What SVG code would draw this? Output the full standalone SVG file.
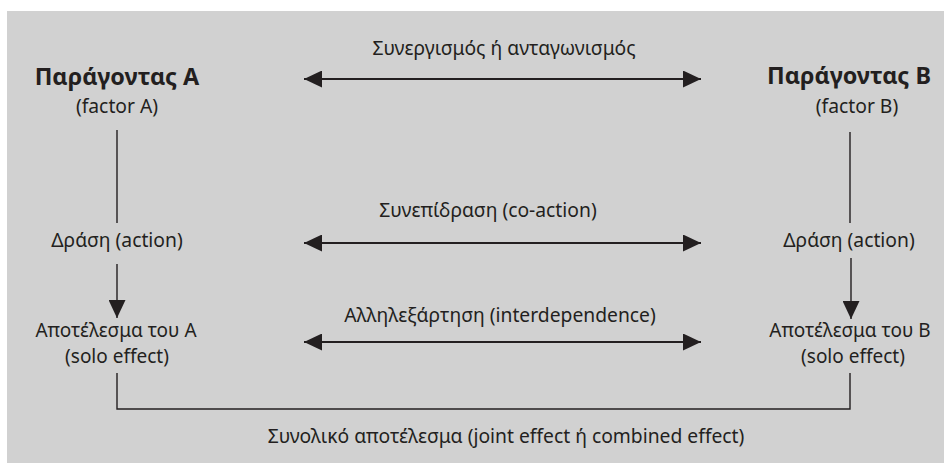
<svg xmlns="http://www.w3.org/2000/svg" width="944" height="464" viewBox="0 0 944 464">
<style>
text{font-family:"Noto Sans","Open Sans","DejaVu Sans",sans-serif;fill:#231f20;text-anchor:middle;font-size:19.3px}
.t{font-weight:bold;font-size:23.4px}
.e{font-size:19px}
.ln{stroke:#231f20;stroke-width:1.4;fill:none}
.ha{stroke:#231f20;stroke-width:2;fill:none}
</style>
<defs>
<marker id="ah" markerUnits="userSpaceOnUse" markerWidth="18" markerHeight="17" refX="18" refY="8.5" orient="auto-start-reverse" viewBox="0 0 18 17">
<path d="M0,0 L18,8.5 L0,17 z" fill="#231f20"/>
</marker>
</defs>
<rect x="7" y="11" width="937" height="452" fill="#d1d1d1"/>
<g id="factorA">
<text class="t" x="117" y="85">Παράγοντας A</text>
<text x="117" y="113">(factor A)</text>
</g>
<g id="factorB">
<text class="t" x="849" y="84">Παράγοντας B</text>
<text x="857" y="113">(factor B)</text>
</g>
<g id="actionA"><text x="117" y="247">Δράση (action)</text></g>
<g id="actionB"><text x="849" y="247">Δράση (action)</text></g>
<g id="effectA">
<text class="e" x="116" y="337">Αποτέλεσμα του A</text>
<text class="e" x="117" y="363">(solo effect)</text>
</g>
<g id="effectB">
<text class="e" x="850" y="337">Αποτέλεσμα του B</text>
<text class="e" x="853" y="363">(solo effect)</text>
</g>
<g id="connectors">
<line class="ln" x1="117" y1="130" x2="117" y2="223"/>
<line class="ln" x1="850" y1="132" x2="850" y2="223"/>
<line class="ln" x1="117" y1="264" x2="117" y2="318" marker-end="url(#ah)"/>
<line class="ln" x1="851" y1="258" x2="851" y2="319" marker-end="url(#ah)"/>
<line class="ha" x1="304" y1="79" x2="701" y2="79" marker-start="url(#ah)" marker-end="url(#ah)"/>
<line class="ha" x1="304" y1="243" x2="701" y2="243" marker-start="url(#ah)" marker-end="url(#ah)"/>
<line class="ha" x1="304" y1="342" x2="701" y2="342" marker-start="url(#ah)" marker-end="url(#ah)"/>
<path class="ln" d="M117,373 V409 H850 V373"/>
<text x="504" y="55">Συνεργισμός ή ανταγωνισμός</text>
<text x="488" y="217">Συνεπίδραση (co-action)</text>
<text x="500" y="322">Αλληλεξάρτηση (interdependence)</text>
<text x="506" y="443">Συνολικό αποτέλεσμα (joint effect ή combined effect)</text>
</g>
</svg>
